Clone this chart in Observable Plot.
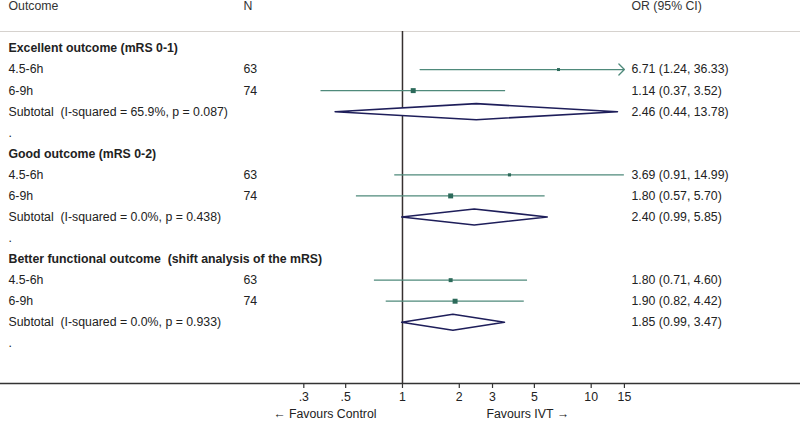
<!DOCTYPE html>
<html><head><meta charset="utf-8">
<script src="https://cdn.jsdelivr.net/npm/d3@7"></script>
<script src="https://cdn.jsdelivr.net/npm/@observablehq/plot@0.6"></script>
<style>
body{margin:0;background:#fff;}
svg text{white-space:pre;}
</style></head><body><div id="chart"></div>
<script>
const headers = ["Outcome", "N", "OR (95% CI)"];
const groups = ["Excellent outcome (mRS 0-1)", "Good outcome (mRS 0-2)", "Better functional outcome  (shift analysis of the mRS)"];
const windows = ["4.5-6h", "6-9h"];
const nValues = [[63, 74], [63, 74], [63, 74]];
const orValues = [[6.71, 1.14], [3.69, 1.80], [1.80, 1.90]];
const loValues = [[1.24, 0.37], [0.91, 0.57], [0.71, 0.82]];
const hiValues = [[36.33, 3.52], [14.99, 5.70], [4.60, 4.42]];
const weights = [[9, 25], [10, 25], [16, 25]];
const subI2 = ["65.9%", "0.0%", "0.0%"];
const subP = ["0.087", "0.438", "0.933"];
const subOR = [2.46, 2.40, 1.85];
const subLo = [0.44, 0.99, 0.99];
const subHi = [13.78, 5.85, 3.47];
const xTicks = [0.3, 0.5, 1, 2, 3, 5, 10, 15];
const favours = ["\u2190 Favours Control", "Favours IVT \u2192"];

const xMax = xTicks[xTicks.length - 1];
const rows = [];
let idx = 0;
groups.forEach((g, gi) => {
  rows.push({i: idx++, kind: "group", label: g});
  windows.forEach((w, wi) => {
    rows.push({i: idx++, kind: "study", label: w, n: nValues[gi][wi], or: orValues[gi][wi],
      lo: loValues[gi][wi], hi: hiValues[gi][wi], wt: weights[gi][wi]});
  });
  rows.push({i: idx++, kind: "sub", label: `Subtotal  (I-squared = ${subI2[gi]}, p = ${subP[gi]})`,
    or: subOR[gi], lo: subLo[gi], hi: subHi[gi]});
  rows.push({i: idx++, kind: "blank", label: "."});
});
const studies = rows.filter(d => d.kind === "study");
const subs = rows.filter(d => d.kind === "sub");
const effects = rows.filter(d => d.kind === "study" || d.kind === "sub");
const h = 0.38;
const diamonds = subs.flatMap(d => [
  {x: d.lo, y: d.i, z: d.i}, {x: d.or, y: d.i - h, z: d.i}, {x: d.hi, y: d.i, z: d.i},
  {x: d.or, y: d.i + h, z: d.i}, {x: d.lo, y: d.i, z: d.i}
]);
const fmt = d => `${d.or.toFixed(2)} (${d.lo.toFixed(2)}, ${d.hi.toFixed(2)})`;
const tickFmt = d => d < 1 ? String(d).slice(1) : String(d);
const txt = "#222";
const lineC = "#4f8a7b";
const sqC = "#2c6a5a";
const headerRow = -2;
const fs = 12.3;

const chart = Plot.plot({
  width: 800, height: 424,
  marginLeft: 0, marginRight: 0, marginTop: 31, marginBottom: 41,
  x: {type: "log", domain: [0.007409, 128.6]},
  y: {domain: [-0.807, 15.907], reverse: true, axis: null},
  r: {domain: [0, 25], range: [0, 2.8]},
  style: {fontFamily: "'Liberation Sans', Arial, sans-serif", fontSize: fs + "px", background: "#fff", color: txt},
  marks: [
    Plot.frame({anchor: "top", stroke: "#d6d2ce", strokeWidth: 1.2}),
    Plot.frame({anchor: "bottom", stroke: "#333", strokeWidth: 1.3}),
    Plot.ruleX([1], {stroke: "#363030", strokeWidth: 1.5}),
    Plot.axisX(xTicks, {anchor: "bottom", tickSize: 5, tickFormat: () => "", stroke: "#333", strokeWidth: 1.2}),
    Plot.text(xTicks, {x: d => d, text: tickFmt, frameAnchor: "bottom", dy: 17, fontSize: fs, fill: txt}),
    Plot.ruleY(studies.filter(d => d.hi <= xMax), {y: "i", x1: "lo", x2: "hi", stroke: lineC, strokeWidth: 1.3}),
    Plot.arrow(studies.filter(d => d.hi > xMax), {y1: "i", y2: "i", x1: "lo", x2: () => xMax,
      stroke: lineC, strokeWidth: 1.3, headLength: 9, headAngle: 90}),
    Plot.dot(studies, {x: "or", y: "i", r: "wt", symbol: "square", fill: sqC, stroke: null}),
    Plot.line(diamonds, {x: "x", y: "y", z: "z", fill: "#fff", stroke: "#1e1e5a", strokeWidth: 1.6, curve: "linear"}),
    Plot.text(rows.filter(d => d.kind === "group"), {y: "i", text: "label", frameAnchor: "left", dx: 8, textAnchor: "start", fontWeight: "bold", fill: txt}),
    Plot.text(rows.filter(d => d.kind !== "group"), {y: "i", text: "label", frameAnchor: "left", dx: 8, textAnchor: "start", fill: txt}),
    Plot.text(studies, {y: "i", text: "n", frameAnchor: "left", dx: 243, textAnchor: "start", fill: txt}),
    Plot.text(effects, {y: "i", text: fmt, frameAnchor: "left", dx: 631, textAnchor: "start", fill: txt}),
    Plot.text([headers[0]], {y: () => headerRow, text: d => d, frameAnchor: "left", dx: 8, textAnchor: "start", fill: "#333"}),
    Plot.text([headers[1]], {y: () => headerRow, text: d => d, frameAnchor: "left", dx: 243, textAnchor: "start", fill: "#333"}),
    Plot.text([headers[2]], {y: () => headerRow, text: d => d, frameAnchor: "left", dx: 631, textAnchor: "start", fill: "#333"}),
    Plot.text([favours[0]], {x: () => 1, text: d => d, frameAnchor: "bottom", dy: 34, dx: -26, textAnchor: "end", fill: txt}),
    Plot.text([favours[1]], {x: () => 1, text: d => d, frameAnchor: "bottom", dy: 34, dx: 84, textAnchor: "start", fill: txt})
  ]
});
document.getElementById("chart").appendChild(chart);
</script></body></html>
